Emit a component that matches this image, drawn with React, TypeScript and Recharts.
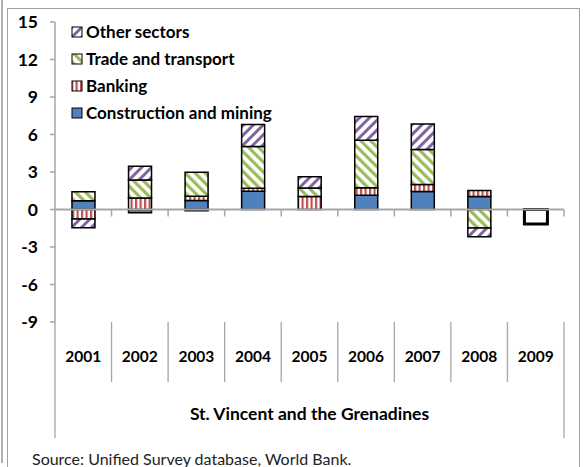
import React from 'react';
import { BarChart, Bar, XAxis, YAxis, ReferenceLine } from 'recharts';

const years = ['2001', '2002', '2003', '2004', '2005', '2006', '2007', '2008', '2009'];
const construction = [0.7, -0.25, 0.72, 1.47, 0, 1.15, 1.45, 1.05, 0];
const banking = [-0.75, 0.93, 0.35, 0.24, 1.04, 0.6, 0.55, 0.48, 0];
const trade = [0.72, 1.44, 1.92, 3.34, 0.69, 3.8, 2.8, -1.47, 0];
const others = [-0.7, 1.09, -0.1, 1.76, 0.9, 1.9, 2.05, -0.7, 0];
const unallocated = [0, 0, 0, 0, 0, 0, 0, 0, -1.15];
const yTicks = [-9, -6, -3, 0, 3, 6, 9, 12, 15];
const groupLabel = 'St. Vincent and the Grenadines';
const sourceText = 'Source: Unified Survey database, World Bank.';

const data = years.map((y, i) => ({
  year: y,
  construction: construction[i],
  banking: banking[i],
  trade: trade[i],
  others: others[i],
  unallocated: unallocated[i],
}));

const legendItems = [
  { name: 'Other sectors', fill: 'url(#pOther)' },
  { name: 'Trade and transport', fill: 'url(#pTrade)' },
  { name: 'Banking', fill: 'url(#pBank)' },
  { name: 'Construction and mining', fill: '#4F81BD' },
];

const FONT = 'Lato, "Open Sans", sans-serif';
const W = 587;
const H = 467;
const M = { top: 22, right: 23, left: 10, bottom: 0 };
const Y_W = 45;
const X_H = 145;
const PLOT_W = W - M.left - M.right - Y_W;
const BAND = PLOT_W / years.length;

const XTick = (props: any) => {
  const { x, y, payload, index } = props;
  const left = x - BAND / 2;
  const right = x + BAND / 2;
  const last = index === years.length - 1;
  const mid = Math.floor(years.length / 2);
  return (
    <g>
      <line x1={left} y1={y} x2={left} y2={y + (index === 0 ? 116 : 60)} stroke="#A6A6A6" strokeWidth={1.3} />
      {last && <line x1={right} y1={y} x2={right} y2={y + 116} stroke="#A6A6A6" strokeWidth={1.3} />}
      <text x={x} y={y + 36} textAnchor="middle" dominantBaseline="middle" fontFamily={FONT} fontWeight="bold" fontSize={15.5} fill="#000">
        {payload.value}
      </text>
      {index === mid && (
        <text x={x} y={y + 94} textAnchor="middle" dominantBaseline="middle" fontFamily={FONT} fontWeight="bold" fontSize={17.5} fill="#000">
          {groupLabel}
        </text>
      )}
    </g>
  );
};

const ZeroLine = (props: any) => {
  const { x1, x2, y1 } = props;
  const n = years.length;
  const step = (x2 - x1) / n;
  const ticks = [];
  for (let k = 1; k <= n; k++) {
    ticks.push(<line key={k} x1={x1 + k * step} x2={x1 + k * step} y1={y1} y2={y1 + 7} stroke="#A6A6A6" strokeWidth={1.5} />);
  }
  return (
    <g>
      <line x1={x1} x2={x2} y1={y1} y2={y1} stroke="#A6A6A6" strokeWidth={2} />
      {ticks}
    </g>
  );
};

const LegendBox = () => (
  <div style={{ position: 'absolute', left: 71, top: 18, fontFamily: FONT, fontWeight: 'bold', fontSize: 17, color: '#000' }}>
    {legendItems.map((it) => (
      <div key={it.name} style={{ display: 'flex', alignItems: 'center', height: 27, whiteSpace: 'nowrap' }}>
        <svg width={12} height={12} style={{ marginRight: 3 }}>
          <rect x={1} y={1} width={10} height={10} fill={it.fill} stroke="#000" strokeWidth={1} />
        </svg>
        <span>{it.name}</span>
      </div>
    ))}
  </div>
);

export default function App() {
  return (
    <div style={{ position: 'absolute', left: 0, top: 0, width: W, height: H, overflow: 'hidden', background: '#fff' }}>
      <div style={{ position: 'absolute', left: 1, top: 0, width: 0, height: 463, borderLeft: '2px solid #B0B0B0' }} />
      <div style={{ position: 'absolute', left: 7, top: 8, width: 571, height: 520, border: '1.5px solid #A0A0A0' }} />
      <div style={{ position: 'absolute', left: 0, top: 0 }}>
        <BarChart width={W} height={H} data={data} margin={M} stackOffset="sign" barCategoryGap="30%">
          <defs>
            <pattern id="pOther" patternUnits="userSpaceOnUse" width="7" height="7" patternTransform="rotate(45)">
              <rect width="7" height="7" fill="#fff" />
              <rect width="3" height="7" fill="#8064A2" />
            </pattern>
            <pattern id="pTrade" patternUnits="userSpaceOnUse" width="7" height="7" patternTransform="rotate(-45)">
              <rect width="7" height="7" fill="#fff" />
              <rect width="3.2" height="7" fill="#9BBB59" />
            </pattern>
            <pattern id="pBank" patternUnits="userSpaceOnUse" width="4.5" height="4.5">
              <rect width="4.5" height="4.5" fill="#fff" />
              <rect width="2.2" height="4.5" fill="#C0504D" />
            </pattern>
          </defs>
          <XAxis dataKey="year" height={X_H} axisLine={false} tickLine={false} tickSize={0} tickMargin={0} tick={<XTick />} interval={0} />
          <YAxis
            width={Y_W}
            domain={[-9, 15]}
            ticks={yTicks}
            interval={0}
            axisLine={{ stroke: '#A6A6A6', strokeWidth: 1.5 }}
            tickLine={{ stroke: '#A6A6A6', strokeWidth: 1.5 }}
            tickSize={5}
            tickMargin={12}
            tick={{ fontFamily: FONT, fontWeight: 'bold', fontSize: 17.5, fill: '#000' }}
          />
          <ReferenceLine y={0} shape={<ZeroLine />} />
          <Bar dataKey="construction" name="Construction and mining" stackId="a" fill="#4F81BD" stroke="#000" strokeWidth={1.5} isAnimationActive={false} />
          <Bar dataKey="banking" name="Banking" stackId="a" fill="url(#pBank)" stroke="#000" strokeWidth={1.5} isAnimationActive={false} />
          <Bar dataKey="trade" name="Trade and transport" stackId="a" fill="url(#pTrade)" stroke="#000" strokeWidth={1.5} isAnimationActive={false} />
          <Bar dataKey="others" name="Other sectors" stackId="a" fill="url(#pOther)" stroke="#000" strokeWidth={1.5} isAnimationActive={false} />
          <Bar dataKey="unallocated" name="unallocated" legendType="none" stackId="a" fill="#fff" stroke="#000" strokeWidth={3} isAnimationActive={false} />
        </BarChart>
      </div>
      <LegendBox />
      <div style={{ position: 'absolute', left: 32, top: 449, fontFamily: FONT, fontSize: 16, lineHeight: '20px', color: '#222', whiteSpace: 'nowrap' }}>
        {sourceText}
      </div>
    </div>
  );
}
